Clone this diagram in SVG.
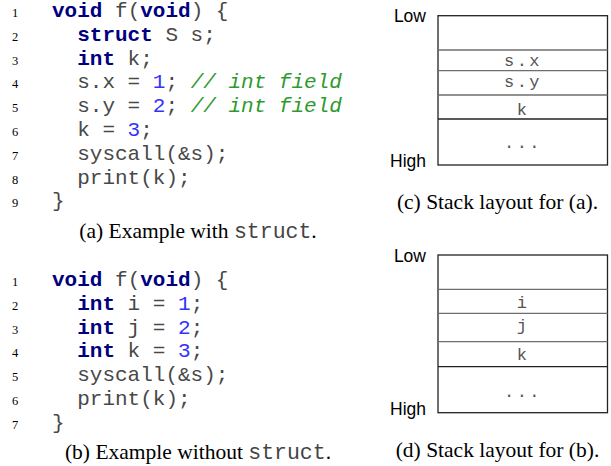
<svg xmlns="http://www.w3.org/2000/svg" width="611" height="466" viewBox="0 0 611 466">
<style>
.code{font-family:"Courier New","Nimbus Mono PS","Nimbus Mono L",FreeMono,"Liberation Mono",monospace;font-size:21px;fill:#484848}
.kw{font-weight:bold;fill:#00007f}
.num{fill:#3333ff}
.cm{font-style:italic;fill:#2e9a2e}
.ln{font-family:"Liberation Serif","DejaVu Serif",serif;font-size:12.5px;fill:#000;text-anchor:middle}
.cap{font-family:"Liberation Serif","DejaVu Serif",serif;font-size:21.5px;fill:#000;text-anchor:middle}
.tt{font-family:"Courier New","Nimbus Mono PS","Nimbus Mono L",FreeMono,"Liberation Mono",monospace;fill:#444}
.lab{font-family:"Liberation Sans","DejaVu Sans",sans-serif;font-size:17.5px;fill:#000;text-anchor:end}
.slot{font-family:"Courier New","Nimbus Mono PS","Nimbus Mono L",FreeMono,"Liberation Mono",monospace;font-size:17px;fill:#555;text-anchor:middle;letter-spacing:2.5px}
.box{fill:#fff;stroke:#222;stroke-width:1.3}
.sep{stroke:#6e6e6e;stroke-width:1.3}
.sepd{stroke:#222;stroke-width:1.3}
</style>

<g id="listing-a">
<text class="ln" x="15" y="17">1</text>
<text class="ln" x="15" y="40.8">2</text>
<text class="ln" x="15" y="64.6">3</text>
<text class="ln" x="15" y="88.4">4</text>
<text class="ln" x="15" y="112.2">5</text>
<text class="ln" x="15" y="136">6</text>
<text class="ln" x="15" y="159.8">7</text>
<text class="ln" x="15" y="183.6">8</text>
<text class="ln" x="15" y="207.4">9</text>
<text class="code" x="52" y="17" xml:space="preserve"><tspan class="kw">void</tspan> f(<tspan class="kw">void</tspan>) {</text>
<text class="code" x="77.2" y="40.8" xml:space="preserve"><tspan class="kw">struct</tspan> S s;</text>
<text class="code" x="77.2" y="64.6" xml:space="preserve"><tspan class="kw">int</tspan> k;</text>
<text class="code" x="77.2" y="88.4" xml:space="preserve">s.x = <tspan class="num">1</tspan>; <tspan class="cm">// int field</tspan></text>
<text class="code" x="77.2" y="112.2" xml:space="preserve">s.y = <tspan class="num">2</tspan>; <tspan class="cm">// int field</tspan></text>
<text class="code" x="77.2" y="136" xml:space="preserve">k = <tspan class="num">3</tspan>;</text>
<text class="code" x="77.2" y="159.8">syscall(&amp;s);</text>
<text class="code" x="77.2" y="183.6">print(k);</text>
<text class="code" x="52" y="207.4">}</text>
<text class="cap" x="198" y="238">(a) Example with <tspan class="tt">struct</tspan>.</text>
</g>

<g id="listing-b">
<text class="ln" x="15" y="286">1</text>
<text class="ln" x="15" y="309.8">2</text>
<text class="ln" x="15" y="333.6">3</text>
<text class="ln" x="15" y="357.4">4</text>
<text class="ln" x="15" y="381.2">5</text>
<text class="ln" x="15" y="405">6</text>
<text class="ln" x="15" y="428.8">7</text>
<text class="code" x="52" y="286" xml:space="preserve"><tspan class="kw">void</tspan> f(<tspan class="kw">void</tspan>) {</text>
<text class="code" x="77.2" y="309.8" xml:space="preserve"><tspan class="kw">int</tspan> i = <tspan class="num">1</tspan>;</text>
<text class="code" x="77.2" y="333.6" xml:space="preserve"><tspan class="kw">int</tspan> j = <tspan class="num">2</tspan>;</text>
<text class="code" x="77.2" y="357.4" xml:space="preserve"><tspan class="kw">int</tspan> k = <tspan class="num">3</tspan>;</text>
<text class="code" x="77.2" y="381.2">syscall(&amp;s);</text>
<text class="code" x="77.2" y="405">print(k);</text>
<text class="code" x="52" y="428.8">}</text>
<text class="cap" x="198" y="459">(b) Example without <tspan class="tt">struct</tspan>.</text>
</g>

<g id="stack-c">
<rect class="box" x="438" y="15.7" width="169.5" height="149.3"/>
<line class="sep" x1="438" y1="50" x2="607.5" y2="50"/>
<line class="sep" x1="438" y1="70.7" x2="607.5" y2="70.7"/>
<line class="sep" x1="438" y1="95" x2="607.5" y2="95"/>
<line class="sepd" x1="438" y1="119" x2="607.5" y2="119"/>
<text class="slot" x="523" y="66">s.x</text>
<text class="slot" x="523" y="87">s.y</text>
<text class="slot" x="523" y="115">k</text>
<text class="slot" x="523" y="148">...</text>
<text class="lab" x="426" y="22">Low</text>
<text class="lab" x="426" y="167">High</text>
<text class="cap" x="497.5" y="209">(c) Stack layout for (a).</text>
</g>

<g id="stack-d">
<rect class="box" x="438" y="255" width="169.5" height="157.7"/>
<line class="sep" x1="438" y1="289.3" x2="607.5" y2="289.3"/>
<line class="sep" x1="438" y1="313.3" x2="607.5" y2="313.3"/>
<line class="sep" x1="438" y1="341.7" x2="607.5" y2="341.7"/>
<line class="sepd" x1="438" y1="366.7" x2="607.5" y2="366.7"/>
<text class="slot" x="523" y="308">i</text>
<text class="slot" x="523" y="331">j</text>
<text class="slot" x="523" y="360">k</text>
<text class="slot" x="523" y="397">...</text>
<text class="lab" x="426" y="262">Low</text>
<text class="lab" x="426" y="415">High</text>
<text class="cap" x="497.5" y="457">(d) Stack layout for (b).</text>
</g>
</svg>
